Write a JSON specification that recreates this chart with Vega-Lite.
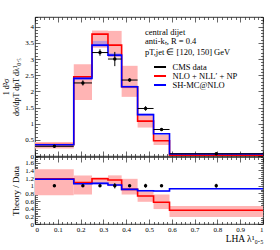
{
  "$schema": "https://vega.github.io/schema/vega-lite/v6.json",
  "padding": {"left": 2, "top": 16, "right": 11, "bottom": 0},
  "bounds": "flush",
  "spacing": 1,
  "config": {
    "font": "Liberation Serif",
    "view": {"stroke": "black", "strokeWidth": 0.8},
    "legend": {"rowPadding": -3, "clipHeight": 9, "padding": 0, "offset": 0},
    "axis": {
      "domain": false, "grid": false, "tickColor": "black", "tickWidth": 0.6, "tickSize": -2.5,
      "labelFont": "Liberation Serif", "labelFontSize": 7, "labelColor": "black",
      "labelOverlap": false, "labelPadding": 4,
      "titleFont": "Liberation Serif", "titleFontWeight": "normal", "titleColor": "black"
    }
  },
  "datasets": {
    "bins": [
      {"lo": 0, "hi": 0.17, "c": 0.085, "d": 0.30, "dl": 0.28, "dh": 0.32, "rl": 0.23, "rh": 0.43, "bl": 0.335, "bh": 0.365, "qlo": 0.97, "qhi": 1.03, "rrl": 0.75, "rrh": 1.43, "brl": 1.15, "brh": 1.19},
      {"lo": 0.17, "hi": 0.25, "c": 0.21, "d": 2.26, "dl": 2.18, "dh": 2.34, "rl": 1.73, "rh": 2.84, "bl": 2.36, "bh": 2.45, "qlo": 0.97, "qhi": 1.03, "rrl": 0.77, "rrh": 1.27, "brl": 1.03, "brh": 1.07},
      {"lo": 0.25, "hi": 0.32, "c": 0.285, "d": 3.20, "dl": 3.10, "dh": 3.30, "rl": 3.35, "rh": 3.88, "bl": 3.38, "bh": 3.56, "qlo": 0.97, "qhi": 1.03, "rrl": 1.04, "rrh": 1.22, "brl": 1.04, "brh": 1.09},
      {"lo": 0.32, "hi": 0.38, "c": 0.35, "d": 3.00, "dl": 2.78, "dh": 3.22, "rl": 3.05, "rh": 3.87, "bl": 3.07, "bh": 3.18, "qlo": 0.93, "qhi": 1.07, "rrl": 0.99, "rrh": 1.27, "brl": 1.0, "brh": 1.05},
      {"lo": 0.38, "hi": 0.45, "c": 0.415, "d": 2.35, "dl": 2.30, "dh": 2.40, "rl": 1.83, "rh": 2.79, "bl": 2.10, "bh": 2.18, "qlo": 0.98, "qhi": 1.02, "rrl": 0.77, "rrh": 1.18, "brl": 0.89, "brh": 0.92},
      {"lo": 0.45, "hi": 0.52, "c": 0.485, "d": 1.47, "dl": 1.40, "dh": 1.54, "rl": 0.88, "rh": 1.26, "bl": 1.25, "bh": 1.31, "qlo": 0.95, "qhi": 1.05, "rrl": 0.58, "rrh": 0.86, "brl": 0.85, "brh": 0.89},
      {"lo": 0.52, "hi": 0.59, "c": 0.555, "d": 0.82, "dl": 0.78, "dh": 0.86, "rl": 0.34, "rh": 0.65, "bl": 0.67, "bh": 0.71, "qlo": 0.97, "qhi": 1.03, "rrl": 0.39, "rrh": 0.77, "brl": 0.84, "brh": 0.88},
      {"lo": 0.59, "hi": 1.0, "c": 0.795, "d": 0.07, "dl": 0.06, "dh": 0.08, "rl": 0.013, "rh": 0.034, "bl": 0.06, "bh": 0.066, "qlo": 0.95, "qhi": 1.05, "rrl": 0.18, "rrh": 0.47, "brl": 0.91, "brh": 0.93}
    ],
    "steps": [
      {"x": 0, "r": 0.355, "b": 0.35, "rr": 1.18, "br": 1.17},
      {"x": 0.17, "r": 2.45, "b": 2.40, "rr": 1.08, "br": 1.05},
      {"x": 0.25, "r": 3.77, "b": 3.43, "rr": 1.18, "br": 1.06},
      {"x": 0.32, "r": 3.43, "b": 3.12, "rr": 1.15, "br": 1.02},
      {"x": 0.38, "r": 2.14, "b": 2.14, "rr": 0.905, "br": 0.905},
      {"x": 0.45, "r": 1.08, "b": 1.28, "rr": 0.73, "br": 0.87},
      {"x": 0.52, "r": 0.47, "b": 0.69, "rr": 0.57, "br": 0.86},
      {"x": 0.59, "r": 0.026, "b": 0.063, "rr": 0.36, "br": 0.92},
      {"x": 1.0, "r": 0.026, "b": 0.063, "rr": 0.36, "br": 0.92}
    ],
    "notes": [
      {"x": 0.482, "y": 3.84, "t": "central dijet"},
      {"x": 0.482, "y": 3.56, "t": "anti-kₜ, R = 0.4"},
      {"x": 0.482, "y": 3.23, "t": "pT,jet ∈ [120, 150] GeV"}
    ]
  },
  "vconcat": [
    {
      "width": 228, "height": 139,
      "resolve": {"axis": {"x": "independent", "y": "independent"}},
      "layer": [
        {
          "data": {"name": "bins"},
          "mark": {"type": "rect", "color": "#ffb4b4"},
          "encoding": {
            "x": {"field": "lo", "type": "quantitative", "scale": {"domain": [0, 1], "nice": false},
              "axis": {"orient": "bottom", "labels": false, "title": null,
                "values": [0.02,0.04,0.06,0.08,0.12,0.14,0.16,0.18,0.22,0.24,0.26,0.28,0.32,0.34,0.36,0.38,0.42,0.44,0.46,0.48,0.52,0.54,0.56,0.58,0.62,0.64,0.66,0.68,0.72,0.74,0.76,0.78,0.82,0.84,0.86,0.88,0.92,0.94,0.96,0.98]}},
            "x2": {"field": "hi"},
            "y": {"field": "rl", "type": "quantitative", "scale": {"domain": [0, 4.3], "nice": false},
              "axis": {"orient": "left", "labels": false, "title": null,
                "values": [0.1,0.2,0.3,0.4,0.6,0.7,0.8,0.9,1.1,1.2,1.3,1.4,1.6,1.7,1.8,1.9,2.1,2.2,2.3,2.4,2.6,2.7,2.8,2.9,3.1,3.2,3.3,3.4,3.6,3.7,3.8,3.9,4.1,4.2,4.3]}},
            "y2": {"field": "rh"}
          }
        },
        {
          "data": {"name": "bins"},
          "mark": {"type": "rect", "color": "#7070ff", "opacity": 0.45},
          "encoding": {
            "x": {"field": "lo", "type": "quantitative",
              "axis": {"orient": "top", "labels": false, "title": null,
                "values": [0.02,0.04,0.06,0.08,0.12,0.14,0.16,0.18,0.22,0.24,0.26,0.28,0.32,0.34,0.36,0.38,0.42,0.44,0.46,0.48,0.52,0.54,0.56,0.58,0.62,0.64,0.66,0.68,0.72,0.74,0.76,0.78,0.82,0.84,0.86,0.88,0.92,0.94,0.96,0.98]}},
            "x2": {"field": "hi"},
            "y": {"field": "bl", "type": "quantitative",
              "axis": {"orient": "right", "labels": false, "title": null,
                "values": [0.1,0.2,0.3,0.4,0.6,0.7,0.8,0.9,1.1,1.2,1.3,1.4,1.6,1.7,1.8,1.9,2.1,2.2,2.3,2.4,2.6,2.7,2.8,2.9,3.1,3.2,3.3,3.4,3.6,3.7,3.8,3.9,4.1,4.2,4.3]}},
            "y2": {"field": "bh"}
          }
        },
        {
          "data": {"name": "steps"},
          "mark": {"type": "line", "interpolate": "step-after", "strokeWidth": 1.6},
          "encoding": {
            "x": {"field": "x", "type": "quantitative",
              "axis": {"orient": "bottom", "labels": false, "title": null, "tickSize": -5,
                "values": [0,0.1,0.2,0.3,0.4,0.5,0.6,0.7,0.8,0.9,1]}},
            "y": {"field": "r", "type": "quantitative",
              "axis": {"orient": "left", "title": ["1                        d²σ", "dσ/dpT      dpT dλ¹₀.₅"], "titleFontSize": 8,
                "tickSize": -5, "labelPadding": 6.5, "format": "~g",
                "values": [0,0.5,1,1.5,2,2.5,3,3.5,4]}},
            "color": {"datum": "NLO + NLL′ + NP",
              "scale": {"domain": ["CMS data", "NLO + NLL′ + NP", "SH-MC@NLO"], "range": ["black", "#ff0000", "#0000ff"]},
              "legend": {"title": null, "orient": "none", "legendX": 119, "legendY": 45.5,
                "symbolType": "M-2.15,0H2.15", "symbolSize": 49, "symbolStrokeWidth": 1.8, "symbolFillColor": "transparent",
                "labelFont": "Liberation Serif", "labelFontSize": 8.5,
                "labelColor": "black", "rowPadding": -3, "clipHeight": 9, "labelOffset": 9.5}}
          }
        },
        {
          "data": {"name": "steps"},
          "mark": {"type": "line", "interpolate": "step-after", "strokeWidth": 1.6},
          "encoding": {
            "x": {"field": "x", "type": "quantitative",
              "axis": {"orient": "top", "labels": false, "title": null, "tickSize": -5,
                "values": [0,0.1,0.2,0.3,0.4,0.5,0.6,0.7,0.8,0.9,1]}},
            "y": {"field": "b", "type": "quantitative",
              "axis": {"orient": "right", "labels": false, "title": null, "tickSize": -5,
                "values": [0,0.5,1,1.5,2,2.5,3,3.5,4]}},
            "color": {"datum": "SH-MC@NLO"}
          }
        },
        {
          "data": {"name": "bins"},
          "mark": {"type": "rule", "strokeWidth": 1},
          "encoding": {
            "x": {"field": "lo", "type": "quantitative", "axis": null},
            "x2": {"field": "hi"},
            "y": {"field": "d", "type": "quantitative", "axis": null},
            "color": {"datum": "CMS data"}
          }
        },
        {
          "data": {"name": "bins"},
          "mark": {"type": "rule", "strokeWidth": 1, "color": "black"},
          "encoding": {
            "x": {"field": "c", "type": "quantitative", "axis": null},
            "y": {"field": "dl", "type": "quantitative", "axis": null},
            "y2": {"field": "dh"}
          }
        },
        {
          "data": {"name": "bins"},
          "mark": {"type": "point", "filled": true, "size": 12, "color": "black", "opacity": 1},
          "encoding": {
            "x": {"field": "c", "type": "quantitative", "axis": null},
            "y": {"field": "d", "type": "quantitative", "axis": null}
          }
        },
        {
          "data": {"name": "notes"},
          "mark": {"type": "text", "align": "left", "baseline": "middle", "font": "Liberation Serif", "fontSize": 8.5, "color": "black"},
          "encoding": {
            "x": {"field": "x", "type": "quantitative", "axis": null},
            "y": {"field": "y", "type": "quantitative", "axis": null},
            "text": {"field": "t"}
          }
        }
      ]
    },
    {
      "width": 228, "height": 67,
      "resolve": {"axis": {"x": "independent", "y": "independent"}},
      "layer": [
        {
          "data": {"name": "bins"},
          "mark": {"type": "rect", "color": "#ffb4b4"},
          "encoding": {
            "x": {"field": "lo", "type": "quantitative", "scale": {"domain": [0, 1], "nice": false},
              "axis": {"orient": "bottom", "labels": false, "title": null,
                "values": [0.02,0.04,0.06,0.08,0.12,0.14,0.16,0.18,0.22,0.24,0.26,0.28,0.32,0.34,0.36,0.38,0.42,0.44,0.46,0.48,0.52,0.54,0.56,0.58,0.62,0.64,0.66,0.68,0.72,0.74,0.76,0.78,0.82,0.84,0.86,0.88,0.92,0.94,0.96,0.98]}},
            "x2": {"field": "hi"},
            "y": {"field": "rrl", "type": "quantitative", "scale": {"domain": [0, 1.75], "nice": false},
              "axis": {"orient": "left", "labels": false, "title": null,
                "values": [0.05,0.1,0.15,0.25,0.3,0.35,0.45,0.5,0.55,0.65,0.7,0.75,0.85,0.9,0.95,1.05,1.1,1.15,1.25,1.3,1.35,1.45,1.5,1.55,1.65,1.7,1.75]}},
            "y2": {"field": "rrh"}
          }
        },
        {
          "data": {"name": "bins"},
          "mark": {"type": "rect", "color": "#7070ff", "opacity": 0.45},
          "encoding": {
            "x": {"field": "lo", "type": "quantitative",
              "axis": {"orient": "top", "labels": false, "title": null,
                "values": [0.02,0.04,0.06,0.08,0.12,0.14,0.16,0.18,0.22,0.24,0.26,0.28,0.32,0.34,0.36,0.38,0.42,0.44,0.46,0.48,0.52,0.54,0.56,0.58,0.62,0.64,0.66,0.68,0.72,0.74,0.76,0.78,0.82,0.84,0.86,0.88,0.92,0.94,0.96,0.98]}},
            "x2": {"field": "hi"},
            "y": {"field": "brl", "type": "quantitative",
              "axis": {"orient": "right", "labels": false, "title": null,
                "values": [0.05,0.1,0.15,0.25,0.3,0.35,0.45,0.5,0.55,0.65,0.7,0.75,0.85,0.9,0.95,1.05,1.1,1.15,1.25,1.3,1.35,1.45,1.5,1.55,1.65,1.7,1.75]}},
            "y2": {"field": "brh"}
          }
        },
        {
          "mark": {"type": "rule", "color": "black", "strokeWidth": 1},
          "encoding": {"y": {"datum": 1, "type": "quantitative", "axis": null}}
        },
        {
          "data": {"name": "steps"},
          "mark": {"type": "line", "interpolate": "step-after", "strokeWidth": 1.6, "color": "#ff0000"},
          "encoding": {
            "x": {"field": "x", "type": "quantitative",
              "axis": {"orient": "bottom", "title": "LHA λ¹₀.₅", "titleFontSize": 9.5, "titleAnchor": "end", "titlePadding": 1,
                "tickSize": -5, "labelPadding": 6.5, "format": "~g",
                "values": [0,0.1,0.2,0.3,0.4,0.5,0.6,0.7,0.8,0.9,1]}},
            "y": {"field": "rr", "type": "quantitative",
              "axis": {"orient": "left", "title": "Theory / Data", "titleFontSize": 9,
                "tickSize": -5, "labelPadding": 6.5, "format": "~g",
                "values": [0,0.2,0.4,0.6,0.8,1,1.2,1.4,1.6]}}
          }
        },
        {
          "data": {"name": "steps"},
          "mark": {"type": "line", "interpolate": "step-after", "strokeWidth": 1.6, "color": "#0000ff"},
          "encoding": {
            "x": {"field": "x", "type": "quantitative",
              "axis": {"orient": "top", "labels": false, "title": null, "tickSize": -5,
                "values": [0,0.1,0.2,0.3,0.4,0.5,0.6,0.7,0.8,0.9,1]}},
            "y": {"field": "br", "type": "quantitative",
              "axis": {"orient": "right", "labels": false, "title": null, "tickSize": -5,
                "values": [0,0.2,0.4,0.6,0.8,1,1.2,1.4,1.6]}}
          }
        },
        {
          "data": {"name": "bins"},
          "mark": {"type": "rule", "strokeWidth": 1, "color": "black"},
          "encoding": {
            "x": {"field": "c", "type": "quantitative", "axis": null},
            "y": {"field": "qlo", "type": "quantitative", "axis": null},
            "y2": {"field": "qhi"}
          }
        },
        {
          "data": {"name": "bins"},
          "mark": {"type": "point", "filled": true, "size": 12, "color": "black", "opacity": 1},
          "encoding": {
            "x": {"field": "c", "type": "quantitative", "axis": null},
            "y": {"datum": 1, "type": "quantitative", "axis": null}
          }
        }
      ]
    }
  ]
}
